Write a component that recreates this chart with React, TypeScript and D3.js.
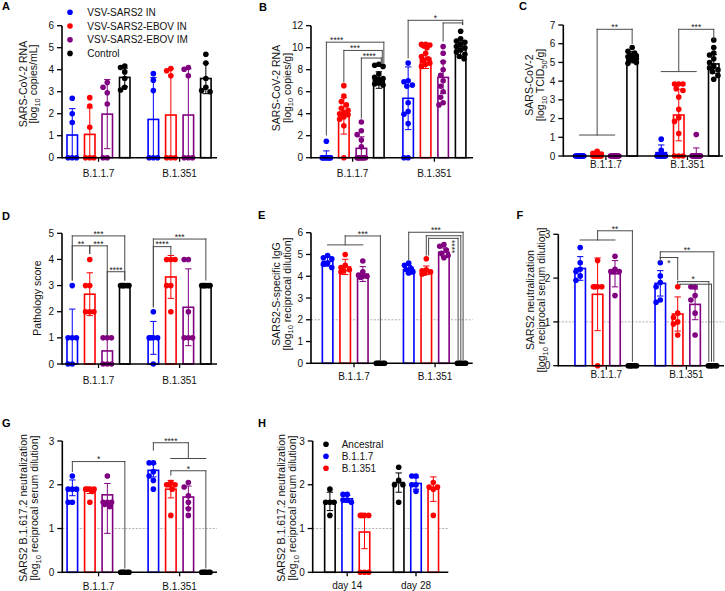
import React from "react";
import * as d3 from "d3";

const FONT = "'Liberation Sans', Arial, Helvetica, sans-serif";

// ---------- categories / series ----------
const variantCats = ["B.1.1.7", "B.1.351"];
const dayCats = ["day 14", "day 28"];
const vaccineGroups = ["VSV-SARS2 IN", "VSV-SARS2-EBOV IN", "VSV-SARS2-EBOV IM", "Control"];
const vaccineColors = ["#0000FF", "#FF0000", "#800080", "#000000"];
const strainGroups = ["Ancestral", "B.1.1.7", "B.1.351"];
const strainColors = ["#000000", "#0000FF", "#FF0000"];

// ---------- tick values ----------
const ticksA = [0, 1, 2, 3, 4, 5, 6];
const ticksB = [0, 2, 4, 6, 8, 10, 12];
const ticksC = [0, 1, 2, 3, 4, 5, 6, 7];
const ticksD = [0, 1, 2, 3, 4, 5];
const ticksE = [0, 1, 2, 3, 4, 5, 6];
const ticks0to3 = [0, 1, 2, 3];

// ---------- Panel A: SARS-CoV-2 RNA [log10 copies/mL] ----------
const pointsA = [
  [[2.7, 2.0, 1.6, 0, 0, 0], [2.73, 2.35, 1.38, 0, 0, 0], [3.42, 3.2, 2.95, 2.44, 0, 0], [4.17, 4.1, 3.9, 3.6, 3.2, 3.08]],
  [[3.82, 3.52, 3.05, 0, 0, 0], [4.05, 3.95, 3.72, 0, 0, 0], [4.1, 4.02, 3.72, 0, 0, 0], [4.7, 4.3, 3.6, 3.2, 3.05, 3.0]],
];
const meansA = [[1.03, 1.06, 1.98, 3.65], [1.74, 1.94, 1.94, 3.6]];
const sdsA = [[1.2, 1.2, 1.57, 0.42], [1.9, 2.1, 2.1, 0.69]];

// ---------- Panel B: SARS-CoV-2 RNA [log10 copies/g] ----------
const pointsB = [
  [
    [1.5, 0, 0, 0, 0, 0, 0, 0, 0, 0],
    [6.55, 5.6, 5.1, 4.8, 4.5, 4.3, 4.1, 4.0, 3.9, 3.7, 3.5, 2.9, 0],
    [3.25, 2.45, 2.1, 1.6, 1.0, 0, 0, 0, 0, 0, 0, 0, 0],
    [8.5, 8.4, 8.3, 7.6, 7.3, 7.2, 7.1, 7.0, 6.9, 6.8, 6.7, 6.6],
  ],
  [
    [8.6, 7.0, 6.9, 6.6, 6.5, 5.0, 4.2, 3.95, 3.1, 0, 0],
    [10.3, 10.3, 10.25, 10.2, 10.0, 9.5, 9.2, 9.0, 8.8, 8.6, 8.5, 8.3],
    [10.1, 9.5, 8.7, 8.0, 7.5, 7.0, 6.5, 6.0, 5.5, 5.0, 4.8],
    [11.5, 10.8, 10.6, 10.5, 10.3, 10.1, 10.0, 9.8, 9.6, 9.4, 9.2, 9.0],
  ],
];
const meansB = [[0.15, 3.8, 0.85, 7.06], [5.4, 9.03, 7.3, 9.8]];
const sdsB = [[0.47, 1.65, 1.05, 0.75], [2.85, 0.92, 1.45, 0.6]];
const bracketsB = [
  { g: 0, a: 0, b: 3, y: 10.5, ya: 2.06, yb: 8.6, label: "****", lf: 0.18, dxb: 5 },
  { g: 0, a: 1, b: 3, y: 9.75, ya: 6.9, yb: 8.6, label: "***", lf: 0.29, dxb: 3.4 },
  { g: 0, a: 2, b: 3, y: 9.06, ya: 3.6, yb: 8.6, label: "****", lf: 0.4, dxb: 2.4 },
  { g: 1, a: 0, b: 3, y: 12.49, ya: 9.07, yb: 12.1, label: "*", dxb: 2 },
  { g: 1, a: 2, b: 3, y: 12.25, ya: 10.6, yb: 12.1, dxb: 2 },
];

// ---------- Panel C: SARS-CoV-2 [log10 TCID50/g] ----------
const pointsC = [
  [
    [0, 0, 0, 0, 0, 0, 0, 0, 0, 0, 0, 0],
    [0.25, 0.15, 0.1, 0, 0, 0, 0, 0, 0, 0, 0, 0],
    [0, 0, 0, 0, 0, 0, 0, 0, 0, 0, 0, 0],
    [5.8, 5.6, 5.5, 5.4, 5.35, 5.3, 5.25, 5.2, 5.15, 5.1, 5.0, 4.95],
  ],
  [
    [0.9, 0.3, 0, 0, 0, 0, 0, 0, 0, 0, 0, 0],
    [3.85, 3.85, 3.85, 3.6, 3.5, 3.15, 2.5, 2.05, 1.85, 1.2, 0, 0, 0],
    [1.15, 0, 0, 0, 0, 0, 0, 0, 0, 0, 0, 0],
    [6.2, 5.8, 5.5, 5.4, 5.2, 5.0, 4.8, 4.7, 4.6, 4.5, 4.3, 4.1],
  ],
];
const meansC = [[0, 0.04, 0, 5.28], [0.18, 2.19, 0.1, 4.92]];
const sdsC = [[0, 0.08, 0, 0.3], [0.41, 1.38, 0.33, 0.5]];
const bracketsC = [
  { g: 0, a: [0, 2], b: 3, y: 6.77, ya: 1.12, yb: 6.02, label: "**" },
  { g: 1, a: [0, 2], b: 3, y: 6.77, ya: 4.51, yb: 6.24, label: "***" },
];

// ---------- Panel D: Pathology score ----------
const pointsD = [
  [[3, 1, 1, 1, 0, 0], [4, 3, 3, 2, 2, 2], [1, 1, 1, 0, 0, 0], [3, 3, 3, 3, 3, 3]],
  [[2, 1, 1, 1, 1, 0], [4, 4, 4, 3, 3, 2], [4, 4, 2, 1, 1, 1], [3, 3, 3, 3, 3, 3]],
];
const meansD = [[1, 2.67, 0.5, 3], [1, 3.33, 2.17, 3]];
const sdsD = [[1.1, 0.82, 0.55, 0], [0.63, 0.82, 1.47, 0]];
const bracketsD = [
  { g: 0, a: 0, b: 3, y: 4.9, ya: 3.21, yb: 3.21, label: "***" },
  { g: 0, a: 0, b: 1, y: 4.52, ya: 3.21, yb: 4.23, label: "**" },
  { g: 0, a: 1, b: 2, y: 4.52, ya: 4.23, yb: 1.11, label: "***" },
  { g: 0, a: 2, b: 3, y: 3.53, ya: 1.11, yb: 3.21, label: "****" },
  { g: 1, a: 0, b: 3, y: 4.78, ya: 2.19, yb: 3.21, label: "***" },
  { g: 1, a: 0, b: 1, y: 4.49, ya: 2.19, yb: 4.17, label: "****" },
];

// ---------- Panel E: SARS2-S-specific IgG ----------
const pointsE = [
  [[4.95, 4.85, 4.8, 4.6, 4.55, 4.4], [5.0, 4.5, 4.4, 4.3, 4.25, 4.2], [4.7, 4.2, 4.05, 4.0, 4.0, 3.95], [0, 0, 0, 0, 0, 0]],
  [[4.6, 4.5, 4.35, 4.3, 4.2, 4.15], [4.8, 4.3, 4.25, 4.2, 4.15, 4.1], [5.45, 5.38, 5.2, 5.05, 4.95, 4.85], [0, 0, 0, 0, 0, 0]],
];
const meansE = [[4.68, 4.43, 4.1, 0], [4.3, 4.27, 5.1, 0]];
const sdsE = [[0.22, 0.35, 0.34, 0], [0.19, 0.2, 0.2, 0]];
const bracketsE = [
  { g: 0, a: [0, 2], b: 3, y: 5.85, ya: 5.44, yb: 0.15, label: "***" },
  { g: 1, a: 0, b: 3, y: 6.02, ya: 4.75, yb: 0.15, label: "***", dxb: 1.6 },
  { g: 1, a: 1, b: 3, y: 5.86, ya: 4.97, yb: 0.15, dxb: -0.7 },
  { g: 1, a: 1, b: 3, y: 5.74, ya: 4.97, yb: 0.15, dxa: 2.3, dxb: -3.4, label: "****", rot: true, ly: 5.36 },
];

// ---------- Panel F: SARS2 neutralization ----------
const pointsF = [
  [[2.7, 2.35, 2.2, 2.15, 2.05, 1.95], [2.4, 1.8, 1.8, 1.8, 1.8, 0], [2.5, 2.2, 2.15, 2.15, 2.15, 1.6], [0, 0, 0, 0, 0, 0]],
  [[2.35, 2.05, 1.9, 1.8, 1.5, 1.45], [1.8, 1.2, 1.1, 1.0, 0.95, 0.7], [1.8, 1.8, 1.6, 1.5, 1.2, 0.7], [0, 0, 0, 0, 0, 0]],
];
const meansF = [[2.22, 1.63, 2.1, 0], [1.88, 1.18, 1.4, 0]];
const sdsF = [[0.27, 0.83, 0.3, 0], [0.29, 0.39, 0.35, 0]];
const bracketsF = [
  { g: 0, a: [0, 2], b: 3, y: 3.08, ya: 2.87, yb: 0.1, label: "**" },
  { g: 1, a: 0, b: 3, y: 2.6, ya: 2.45, yb: 0.1, label: "**", dxb: 1.3 },
  { g: 1, a: 0, b: 1, y: 2.47, ya: 2.37, yb: 1.96, label: "*", below: true },
  { g: 1, a: 1, b: 3, y: 1.92, ya: 1.88, yb: 0.1, label: "*", dxb: -3.7 },
  { g: 1, a: 1, b: 3, y: 1.86, ya: 1.84, yb: 0.1, dxa: 2.3, dxb: -1 },
];

// ---------- Panel G: SARS2 B.1.617.2 neutralization ----------
const pointsG = [
  [[2.2, 1.9, 1.9, 1.9, 1.6, 1.6], [1.9, 1.9, 1.9, 1.9, 1.85, 1.6], [2.2, 1.6, 1.6, 1.6, 1.55, 1.5], [0, 0, 0, 0, 0, 0]],
  [[2.5, 2.5, 2.3, 2.2, 2.1, 1.9], [2.05, 2.0, 2.0, 2.0, 1.9, 1.3], [2.05, 1.95, 1.75, 1.6, 1.45, 1.3], [0, 0, 0, 0, 0, 0]],
];
const meansG = [[1.93, 1.87, 1.77, 0], [2.33, 1.9, 1.72, 0]];
const sdsG: (number | number[])[][] = [[0.18, 0.07, [0.88, 0.26], 0], [0.15, 0.2, 0.25, 0]];
const bracketsG = [
  { g: 0, a: 0, b: 3, y: 2.53, ya: 2.3, yb: 0.1, label: "*" },
  { g: 1, a: 0, b: [1, 3], y: 2.96, ya: 2.79, yb: 2.6, label: "****" },
  { g: 1, a: 1, b: 3, y: 2.32, ya: 2.22, yb: 0.1, label: "*" },
];

// ---------- Panel H: B.1.617.2 neutralization by strain ----------
const pointsH = [
  [[1.9, 1.6, 1.6, 1.6, 1.3], [1.78, 1.78, 1.65, 1.65, 1.6], [1.3, 1.3, 1.3, 1.3, 0, 0, 0]],
  [[2.4, 2.1, 2.0, 2.0, 1.6], [2.2, 2.2, 2.0, 2.0, 1.85], [2.05, 1.95, 1.95, 1.9, 1.3]],
];
const meansH = [[1.62, 1.68, 0.92], [2.05, 2.03, 1.9]];
const sdsH = [[0.21, 0.08, 0.38], [0.22, 0.13, 0.28]];

// ---------- layout ----------
type Bracket = {
  g: number; a: number | number[]; b: number | number[]; y: number; ya: number; yb: number;
  label?: string; lf?: number; dxa?: number; dxb?: number; rot?: boolean; ly?: number; below?: boolean;
};
type PanelCfg = {
  letter: string; lx: number; ly: number;
  x0: number; x1: number; yBase: number; yTop: number; yMax: number; ticks: number[];
  cats: string[]; centers: [number, number]; spacing: number;
  colors: string[];
  points: number[][][]; means: number[][]; sds: (number | number[])[][];
  title: string[]; titleX: number[]; titleCY: number; catDy: number;
  refLine?: number; brackets: Bracket[];
};

const panels: PanelCfg[] = [
  {
    letter: "A", lx: 2, ly: 10, x0: 62, x1: 217, yBase: 157.7, yTop: 25.7, yMax: 6, ticks: ticksA,
    cats: variantCats, centers: [98.5, 179.6], spacing: 17.5, colors: vaccineColors,
    points: pointsA, means: meansA, sds: sdsA,
    title: ["SARS-CoV-2 RNA", "[log_{10} copies/mL]"], titleX: [26.5, 37], titleCY: 84, catDy: 19, brackets: [],
  },
  {
    letter: "B", lx: 259, ly: 11, x0: 311, x1: 473, yBase: 157.7, yTop: 25.7, yMax: 12, ticks: ticksB,
    cats: variantCats, centers: [352.6, 434.4], spacing: 17.5, colors: vaccineColors,
    points: pointsB, means: meansB, sds: sdsB,
    title: ["SARS-CoV-2 RNA", "[log_{10} copies/g]"], titleX: [280.3, 290.8], titleCY: 88, catDy: 19, brackets: bracketsB,
  },
  {
    letter: "C", lx: 519, ly: 10, x0: 563.3, x1: 723, yBase: 156, yTop: 25, yMax: 7, ticks: ticksC,
    cats: variantCats, centers: [605.9, 687.5], spacing: 17.5, colors: vaccineColors,
    points: pointsC, means: meansC, sds: sdsC,
    title: ["SARS-CoV-2", "[log_{10} TCID_{50}/g]"], titleX: [533, 544], titleCY: 85, catDy: 12, brackets: bracketsC,
  },
  {
    letter: "D", lx: 2, ly: 219.5, x0: 62, x1: 217, yBase: 364, yTop: 233.3, yMax: 5, ticks: ticksD,
    cats: variantCats, centers: [98.5, 179.6], spacing: 17.5, colors: vaccineColors,
    points: pointsD, means: meansD, sds: sdsD,
    title: ["Pathology score"], titleX: [41.3], titleCY: 298, catDy: 20, brackets: bracketsD,
  },
  {
    letter: "E", lx: 258, ly: 218.5, x0: 311, x1: 472.7, yBase: 363.3, yTop: 232.7, yMax: 6, ticks: ticksE,
    cats: variantCats, centers: [354, 435.1], spacing: 17.6, colors: vaccineColors,
    points: pointsE, means: meansE, sds: sdsE,
    title: ["SARS2-S-specific IgG", "[log_{10} reciprocal dilution]"], titleX: [280.3, 290.8], titleCY: 294, catDy: 17,
    refLine: 2, brackets: bracketsE,
  },
  {
    letter: "F", lx: 516.5, ly: 219.3, x0: 558.3, x1: 724, yBase: 365.7, yTop: 234.3, yMax: 3, ticks: ticks0to3,
    cats: variantCats, centers: [606.3, 686.4], spacing: 17.4, colors: vaccineColors,
    points: pointsF, means: meansF, sds: sdsF,
    title: ["SARS2 neutralization", "[log_{10} reciprocal serum dilution]"], titleX: [533.5, 545], titleCY: 300, catDy: 12.5,
    refLine: 1, brackets: bracketsF,
  },
  {
    letter: "G", lx: 2, ly: 426.7, x0: 62.3, x1: 217, yBase: 572.3, yTop: 441, yMax: 3, ticks: ticks0to3,
    cats: variantCats, centers: [98.6, 179.6], spacing: 17.5, colors: vaccineColors,
    points: pointsG, means: meansG, sds: sdsG,
    title: ["SARS2 B.1.617.2 neutralization", "[log_{10} reciprocal serum dilution]"], titleX: [27, 38], titleCY: 508, catDy: 17.5,
    refLine: 1, brackets: bracketsG,
  },
  {
    letter: "H", lx: 258, ly: 427.3, x0: 312.7, x1: 448.3, yBase: 572.3, yTop: 441, yMax: 3, ticks: ticks0to3,
    cats: dayCats, centers: [347.2, 416], spacing: 17.3, colors: strainColors,
    points: pointsH, means: meansH, sds: sdsH,
    title: ["SARS2 B.1.617.2 neutralization", "[log_{10} reciprocal serum dilution]"], titleX: [285.3, 296], titleCY: 508, catDy: 16.5,
    refLine: 1, brackets: [],
  },
];

const R = 2.8;

function swarm(vals: number[], y: (v: number) => number) {
  const offs = [0, -2.5, 2.5, -4.2, 4.2, -1.3, 1.3, -3.4, 3.4];
  const placed: [number, number][] = [];
  return vals.map((v) => {
    const py = y(v);
    let best = 0;
    let bestD = -1;
    for (const o of offs) {
      let md = Infinity;
      for (const [px, qy] of placed) md = Math.min(md, Math.hypot(px - o, qy - py));
      if (md >= 2 * R) { best = o; bestD = md; break; }
      if (md > bestD) { bestD = md; best = o; }
    }
    placed.push([best, py]);
    return [best, py];
  });
}

function rich(s: string) {
  const parts = s.split(/_\{([^}]*)\}/);
  let shifted = false;
  return parts.map((p, i) => {
    if (i % 2 === 1) {
      shifted = true;
      return <tspan key={i} fontSize={7.5} dy={2.6}>{p}</tspan>;
    }
    const dy = shifted ? -2.6 : 0;
    shifted = false;
    return <tspan key={i} dy={dy}>{p}</tspan>;
  });
}

function Panel({ p }: { p: PanelCfg }) {
  const xg = d3.scalePoint<string>().domain(p.cats).range(p.centers);
  const y = d3.scaleLinear().domain([0, p.yMax]).range([p.yBase, p.yTop]);
  const nb = p.colors.length;
  const bx = (g: number, b: number) => (xg(p.cats[g]) as number) + (b - (nb - 1) / 2) * p.spacing;
  const bw = 10.5;
  const cap = 3.2;

  const bars: React.ReactNode[] = [];
  const errs: React.ReactNode[] = [];
  const dots: React.ReactNode[] = [];
  p.cats.forEach((_, g) => {
    for (let b = 0; b < nb; b++) {
      const cx = bx(g, b);
      const col = p.colors[b];
      const m = p.means[g][b];
      bars.push(
        <rect key={`b${g}${b}`} x={cx - bw / 2} y={y(m)} width={bw} height={Math.max(0, y(0) - y(m))}
          fill="#fff" stroke={col} strokeWidth={1.6} />
      );
      const sd = p.sds[g][b];
      const lo = Array.isArray(sd) ? sd[0] : sd;
      const hi = Array.isArray(sd) ? sd[1] : sd;
      if (hi > 0) {
        const top = m + hi;
        const bot = Math.max(0, m - lo);
        errs.push(<line key={`e${g}${b}`} x1={cx} x2={cx} y1={y(bot)} y2={y(top)} stroke={col} strokeWidth={1} />);
        errs.push(<line key={`et${g}${b}`} x1={cx - cap} x2={cx + cap} y1={y(top)} y2={y(top)} stroke={col} strokeWidth={1} />);
        if (m - lo > 0)
          errs.push(<line key={`eb${g}${b}`} x1={cx - cap} x2={cx + cap} y1={y(bot)} y2={y(bot)} stroke={col} strokeWidth={1} />);
      }
      swarm(p.points[g][b], y).forEach(([dx, py], i) => {
        dots.push(<circle key={`d${g}${b}${i}`} cx={cx + dx} cy={py} r={R} fill={col} />);
      });
    }
  });

  const brs: React.ReactNode[] = [];
  p.brackets.forEach((br, k) => {
    const segs: [number, number, number, number][] = [];
    const yT = y(br.y);
    const side = (s: number | number[], yy: number, dx?: number) => {
      if (Array.isArray(s)) {
        const xa = bx(br.g, s[0]);
        const xb = bx(br.g, s[1]);
        segs.push([xa, y(yy), xb, y(yy)]);
        const xm = (xa + xb) / 2;
        segs.push([xm, y(yy), xm, yT]);
        return xm;
      }
      const x = bx(br.g, s) + (dx || 0);
      segs.push([x, y(yy), x, yT]);
      return x;
    };
    const xa = side(br.a, br.ya, br.dxa);
    const xb = side(br.b, br.yb, br.dxb);
    segs.push([xa, yT, xb, yT]);
    segs.forEach((s, i) =>
      brs.push(<line key={`k${k}_${i}`} x1={s[0]} y1={s[1]} x2={s[2]} y2={s[3]} stroke="#4a4a4a" strokeWidth={1} strokeLinecap="square" />)
    );
    if (br.label) {
      if (br.rot) {
        brs.push(
          <text key={`kl${k}`} transform={`translate(${xb - 9},${y(br.ly as number)}) rotate(90)`} textAnchor="middle"
            fontSize={8.5} fontFamily={FONT} fill="#222">{br.label}</text>
        );
      } else {
        const lx = xa + (br.lf ?? 0.5) * (xb - xa);
        brs.push(
          <text key={`kl${k}`} x={lx} y={br.below ? yT + 8.5 : yT + 0.8} textAnchor="middle" fontSize={8.5}
            fontFamily={FONT} fill="#222">{br.label}</text>
        );
      }
    }
  });

  return (
    <g>
      <text x={p.lx} y={p.ly} fontSize={11} fontWeight="bold" fontFamily={FONT}>{p.letter}</text>
      {p.title.map((t, i) => (
        <text key={`t${i}`} transform={`translate(${p.titleX[i]},${p.titleCY}) rotate(-90)`} textAnchor="middle"
          fontSize={10.5} fontFamily={FONT} fill="#111">{rich(t)}</text>
      ))}
      {p.refLine !== undefined && (
        <line x1={p.x0} x2={p.x1} y1={y(p.refLine)} y2={y(p.refLine)} stroke="#9a9a9a" strokeWidth={0.8} strokeDasharray="2,1.5" />
      )}
      {bars}
      {errs}
      {dots}
      {brs}
      {/* y axis */}
      <line x1={p.x0} x2={p.x0} y1={y(0) + 0.8} y2={y(p.yMax)} stroke="#000" strokeWidth={1.6} />
      {p.ticks.map((t) => (
        <g key={`yt${t}`}>
          <line x1={p.x0 - 5} x2={p.x0} y1={y(t)} y2={y(t)} stroke="#000" strokeWidth={1.3} />
          <text x={p.x0 - 8} y={y(t) + 3.6} textAnchor="end" fontSize={10} fontFamily={FONT} fill="#111">{t}</text>
        </g>
      ))}
      {/* x axis */}
      <line x1={p.x0} x2={p.x1} y1={y(0)} y2={y(0)} stroke="#000" strokeWidth={1.6} />
      {p.cats.map((c) => (
        <g key={`xc${c}`}>
          <line x1={xg(c) as number} x2={xg(c) as number} y1={y(0)} y2={y(0) + 4} stroke="#000" strokeWidth={1.3} />
          <text x={xg(c) as number} y={y(0) + p.catDy} textAnchor="middle" fontSize={10} fontFamily={FONT} fill="#111">{c}</text>
        </g>
      ))}
    </g>
  );
}

export default function App() {
  return (
    <svg width={725} height={591} style={{ position: "absolute", left: 0, top: 0 }} fontFamily={FONT}>
      <rect x={0} y={0} width={725} height={591} fill="#fff" />
      {panels.map((p) => (
        <Panel key={p.letter} p={p} />
      ))}
      {/* legend A */}
      {vaccineGroups.map((s, i) => (
        <g key={`la${i}`}>
          <circle cx={70} cy={12.3 + i * 13.7} r={R} fill={vaccineColors[i]} />
          <text x={87.3} y={12.3 + i * 13.7 + 3.6} fontSize={10} fontFamily={FONT} fill="#111">{s}</text>
        </g>
      ))}
      {/* legend H */}
      {strainGroups.map((s, i) => (
        <g key={`lh${i}`}>
          <circle cx={326} cy={444.3 + i * 12} r={R} fill={strainColors[i]} />
          <text x={341.7} y={444.3 + i * 12 + 3.6} fontSize={10} fontFamily={FONT} fill="#111">{s}</text>
        </g>
      ))}
    </svg>
  );
}
